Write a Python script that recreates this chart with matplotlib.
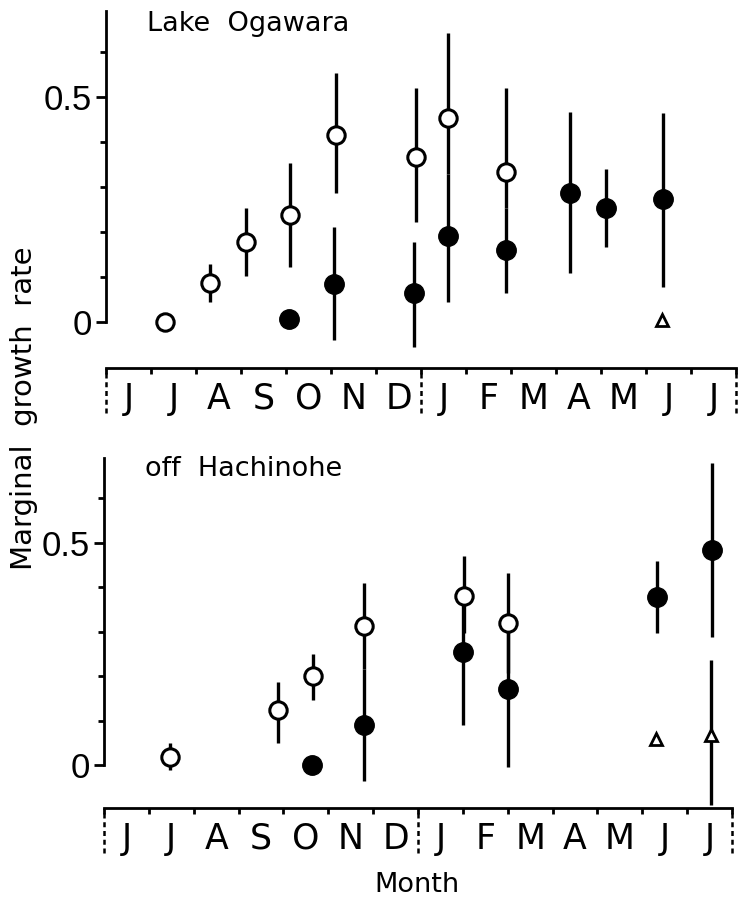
import matplotlib.pyplot as plt
import numpy as np

months = ["J", "J", "A", "S", "O", "N", "D", "J", "F", "M", "A", "M", "J", "J"]

# Lake Ogawara (x = months since start of June)
oga_open_x = [1.31, 2.31, 3.12, 4.09, 5.11, 6.89, 7.59, 8.89]
oga_open_y = [0.0, 0.086, 0.177, 0.238, 0.416, 0.367, 0.453, 0.334]
oga_open_lo = [np.nan, 0.045, 0.102, 0.123, 0.286, 0.223, 0.33, 0.253]
oga_open_hi = [np.nan, 0.129, 0.253, 0.353, 0.553, 0.519, 0.641, 0.519]
oga_fill_x = [4.06, 5.07, 6.85, 7.59, 8.89, 10.31, 11.11, 12.38]
oga_fill_y = [0.006, 0.085, 0.064, 0.191, 0.16, 0.287, 0.254, 0.273]
oga_fill_lo = [np.nan, -0.039, -0.055, 0.045, 0.065, 0.11, 0.167, 0.078]
oga_fill_hi = [np.nan, 0.212, 0.178, 0.33, 0.253, 0.467, 0.339, 0.465]
oga_tri_x = [12.36]
oga_tri_y = [0.004]
oga_tri_lo = [np.nan]
oga_tri_hi = [np.nan]

# off Hachinohe
hac_open_x = [1.47, 3.87, 4.65, 5.79, 8.02, 9.0]
hac_open_y = [0.019, 0.124, 0.2, 0.313, 0.381, 0.319]
hac_open_lo = [-0.011, 0.05, 0.146, 0.217, 0.297, 0.207]
hac_open_hi = [0.049, 0.187, 0.249, 0.41, 0.47, 0.432]
hac_fill_x = [4.64, 5.79, 8.0, 9.0, 12.33, 13.56]
hac_fill_y = [0.0, 0.09, 0.255, 0.172, 0.378, 0.483]
hac_fill_lo = [np.nan, -0.035, 0.091, -0.004, 0.296, 0.289]
hac_fill_hi = [np.nan, 0.217, 0.38, 0.3, 0.459, 0.678]
hac_tri_x = [12.3, 13.54]
hac_tri_y = [0.06, 0.067]
hac_tri_lo = [np.nan, -0.09]
hac_tri_hi = [np.nan, 0.236]

plt.rcParams['font.family'] = ['DejaVu Sans']

fig = plt.figure(figsize=(7.39, 9.06), dpi=100)
ax1 = fig.add_axes([0.1434, 0.5938, 0.8525, 0.3951])
ax2 = fig.add_axes([0.1407, 0.1082, 0.8498, 0.3896])


def bars(ax, x, lo, hi):
    x, lo, hi = np.array(x), np.array(lo), np.array(hi)
    m = ~np.isnan(lo)
    ax.vlines(x[m], lo[m], hi[m], color='black', lw=2.4, zorder=1)


def panel(ax, ylim, title, data):
    for (x, y, lo, hi, kind) in data:
        bars(ax, x, lo, hi)
        if kind == 'open':
            ax.plot(x, y, 'o', ms=12.5, mfc='white', mec='black', mew=2.2,
                    ls='none', zorder=3)
        elif kind == 'fill':
            ax.plot(x, y, 'o', ms=14, mfc='black', mec='black', ls='none',
                    zorder=3)
        else:
            ax.plot(x, y, '^', ms=8, mfc='white', mec='black', mew=2,
                    ls='none', zorder=3)

    ax.set_xlim(0, 14)
    ax.set_ylim(*ylim)
    ax.spines['top'].set_visible(False)
    ax.spines['right'].set_visible(False)
    ax.spines['left'].set_bounds(0, 0.69)
    ax.spines['left'].set_linewidth(2)
    ax.spines['bottom'].set_linewidth(2)

    ax.set_yticks([0, 0.5])
    ax.set_yticklabels(['0', '0.5'], family='Liberation Sans')
    ax.set_yticks(np.arange(0.1, 0.65, 0.1), minor=True)
    ax.tick_params(axis='y', which='major', length=7, width=2, pad=3,
                   labelsize=25)
    ax.tick_params(axis='y', which='minor', length=4, width=2)

    ax.set_xticks(np.arange(15))
    ax.set_xticklabels([])
    ax.set_xticks(np.arange(14) + 0.5, minor=True)
    ax.set_xticklabels(months, minor=True)
    ax.tick_params(axis='x', which='major', length=4, width=2, direction='out')
    ax.tick_params(axis='x', which='minor', length=0, pad=10, labelsize=25)

    trans = ax.get_xaxis_transform()
    for xv in [0, 7, 14]:
        ax.plot([xv, xv], [-0.015, -0.127], transform=trans, color='black',
                lw=1.8, ls=(0, (2, 1.5)), clip_on=False)

    ax.text(0.065, 0.96, title, transform=ax.transAxes, fontsize=19.5,
            va='center', ha='left')


panel(ax1, (-0.102, 0.693), 'Lake  Ogawara', [
    (oga_open_x, oga_open_y, oga_open_lo, oga_open_hi, 'open'),
    (oga_fill_x, oga_fill_y, oga_fill_lo, oga_fill_hi, 'fill'),
    (oga_tri_x, oga_tri_y, oga_tri_lo, oga_tri_hi, 'tri'),
])
panel(ax2, (-0.096, 0.697), 'off  Hachinohe', [
    (hac_open_x, hac_open_y, hac_open_lo, hac_open_hi, 'open'),
    (hac_fill_x, hac_fill_y, hac_fill_lo, hac_fill_hi, 'fill'),
    (hac_tri_x, hac_tri_y, hac_tri_lo, hac_tri_hi, 'tri'),
])

fig.text(24 / 739, 1 - 408 / 906, 'Marginal  growth  rate', rotation=90,
         fontsize=21, ha='center', va='center')
fig.text(417 / 739, 1 - 885 / 906, 'Month', fontsize=19.5, ha='center',
         va='center')

fig.savefig('out.png', dpi=100)
